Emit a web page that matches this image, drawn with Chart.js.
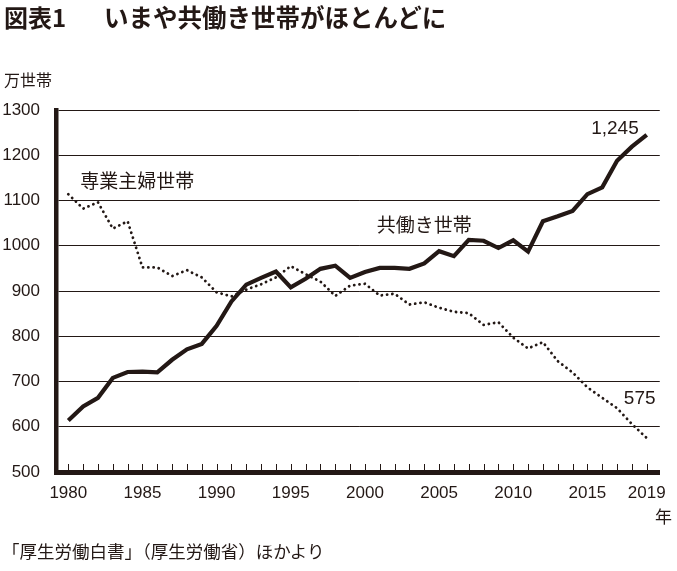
<!DOCTYPE html>
<html>
<head>
<meta charset="utf-8">
<script src="https://cdn.jsdelivr.net/npm/chart.js@4"></script>
<style>
  body { margin: 0; background: #fff; }
  #wrap { position: relative; width: 677px; height: 571px; }
  .txt { position: absolute; color: #231815; font-family: "Noto Sans CJK JP", sans-serif; white-space: nowrap; line-height: 1; }
</style>
</head>
<body>
<div id="wrap">
  <canvas id="chart" width="677" height="571"></canvas>
  <div class="txt" style="left:4px;top:5px;font-size:24px;font-weight:bold;">図表1</div>
  <div class="txt" style="left:104px;top:5px;font-size:24.5px;font-weight:bold;">いまや共働き世帯がほとんどに</div>
  <div class="txt" style="left:4px;top:71px;font-size:16px;">万世帯</div>
  <div class="txt" style="left:655px;top:507px;font-size:17px;">年</div>
  <div class="txt" style="left:2px;top:542px;font-size:17.5px;">「厚生労働白書」（厚生労働省）ほかより</div>
</div>
<script>
// data (万世帯)
const years = [1980, 1981, 1982, 1983, 1984, 1985, 1986, 1987, 1988, 1989,
               1990, 1991, 1992, 1993, 1994, 1995, 1996, 1997, 1998, 1999,
               2000, 2001, 2002, 2003, 2004, 2005, 2006, 2007, 2008, 2009,
               2010, 2011, 2012, 2013, 2014, 2015, 2016, 2017, 2018, 2019];
const dualIncome = [614, 645, 664, 708, 721, 722, 720, 748, 771, 783,
                    823, 877, 914, 929, 943, 908, 927, 949, 956, 929,
                    942, 951, 951, 949, 961, 988, 977, 1013, 1011, 995,
                    1012, 987, 1054, 1065, 1077, 1114, 1129, 1188, 1219, 1245];
const housewife = [1114, 1082, 1096, 1038, 1054, 952, 952, 933, 946, 930,
                   897, 888, 903, 915, 930, 955, 937, 921, 889, 912,
                   916, 890, 894, 870, 875, 863, 854, 851, 825, 831,
                   797, 773, 787, 745, 720, 687, 664, 641, 606, 575];
const xLabelYears = [1980, 1985, 1990, 1995, 2000, 2005, 2010, 2015, 2019];
const yTicks = [500, 600, 700, 800, 900, 1000, 1100, 1200, 1300];

const ink = '#231815';
const numFont = '"Liberation Sans Narrow", "Liberation Sans", sans-serif';
const jpFont = '"Noto Sans CJK JP", sans-serif';

// small inward tick marks on the bottom axis, one per year
const yearTicks = {
    id: 'yearTicks',
    afterDraw(chart) {
        const { ctx, chartArea, scales } = chart;
        ctx.save();
        ctx.strokeStyle = ink;
        ctx.lineWidth = 1;
        years.forEach(yr => {
            const px = Math.round(scales.x.getPixelForValue(yr)) + 0.5;
            ctx.beginPath();
            ctx.moveTo(px, chartArea.bottom - 2);
            ctx.lineTo(px, chartArea.bottom - 8);
            ctx.stroke();
        });
        ctx.restore();
    }
};

// series names and end values
const labels = {
    id: 'labels',
    afterDatasetsDraw(chart) {
        const { ctx, scales } = chart;
        const x = scales.x, y = scales.y;
        const last = years.length - 1;
        ctx.save();
        ctx.fillStyle = ink;
        ctx.textBaseline = 'middle';

        ctx.font = '19px ' + jpFont;
        ctx.textAlign = 'left';
        ctx.fillText('専業主婦世帯', x.getPixelForValue(1980.8), y.getPixelForValue(1143));
        ctx.fillText('共働き世帯', x.getPixelForValue(2000.8), y.getPixelForValue(1046));

        ctx.font = '19px ' + numFont;
        ctx.textAlign = 'right';
        ctx.fillText('1,245', x.getPixelForValue(years[last]) - 8, y.getPixelForValue(dualIncome[last]) - 6);
        ctx.textAlign = 'center';
        ctx.fillText('575', x.getPixelForValue(years[last]) - 7, y.getPixelForValue(housewife[last]) - 39);
        ctx.restore();
    }
};

new Chart(document.getElementById('chart').getContext('2d'), {
    type: 'line',
    data: {
        datasets: [{
            label: '共働き世帯',
            data: years.map((yr, i) => ({ x: yr, y: dualIncome[i] })),
            borderColor: ink,
            borderWidth: 4.2,
            borderJoinStyle: 'miter',
            pointRadius: 0,
            tension: 0
        }, {
            label: '専業主婦世帯',
            data: years.map((yr, i) => ({ x: yr, y: housewife[i] })),
            borderColor: ink,
            borderWidth: 2.8,
            borderCapStyle: 'round',
            borderDash: [0.1, 5.2],
            pointRadius: 0,
            tension: 0
        }]
    },
    options: {
        responsive: false,
        animation: false,
        layout: {
            padding: { top: 110, right: 17, bottom: 0, left: 0 }
        },
        plugins: {
            legend: { display: false },
            tooltip: { enabled: false }
        },
        scales: {
            x: {
                type: 'linear',
                min: 1979.17,
                max: 2019.88,
                afterFit: scale => { scale.height = 99; },
                afterBuildTicks: scale => {
                    scale.ticks = xLabelYears.map(v => ({ value: v }));
                },
                grid: { display: false, drawTicks: false },
                border: { display: true, width: 5, color: ink },
                ticks: {
                    color: ink,
                    padding: 11,
                    maxRotation: 0,
                    autoSkip: false,
                    font: { family: numFont, size: 17 },
                    callback: v => String(v)
                }
            },
            y: {
                min: 500,
                max: 1300,
                afterFit: scale => { scale.width = 56; },
                afterBuildTicks: scale => {
                    scale.ticks = yTicks.map(v => ({ value: v }));
                },
                grid: { color: ink, lineWidth: 1, drawTicks: false },
                border: { display: true, width: 4.5, color: ink },
                ticks: {
                    color: ink,
                    padding: 16,
                    font: { family: numFont, size: 17 },
                    callback: v => String(v)
                }
            }
        }
    },
    plugins: [yearTicks, labels]
});
</script>
</body>
</html>
